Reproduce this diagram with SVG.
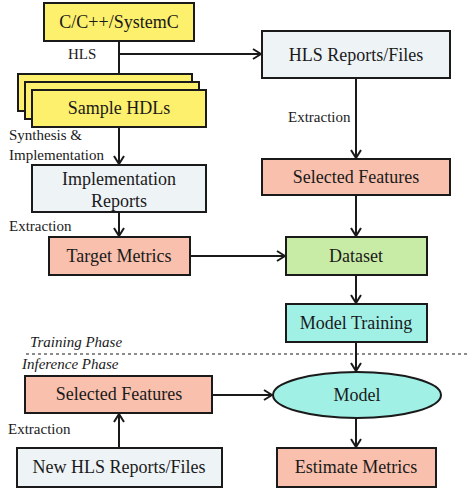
<svg xmlns="http://www.w3.org/2000/svg" width="474" height="492" viewBox="0 0 474 492">
<defs>
<marker id="a" markerUnits="userSpaceOnUse" viewBox="0 0 10 12" refX="9" refY="6" markerWidth="10" markerHeight="12" orient="auto">
<path d="M1,1 L9,6 L1,11" fill="none" stroke="#1a1a1a" stroke-width="2"/>
</marker>
</defs>
<rect width="474" height="492" fill="#fff"/>
<g id="connectors" fill="none" stroke="#1a1a1a" stroke-width="2">
<line x1="119" y1="41" x2="119" y2="89" marker-end="url(#a)"/>
<line x1="119" y1="54" x2="261" y2="54" marker-end="url(#a)"/>
<line x1="119" y1="127" x2="119" y2="164" marker-end="url(#a)"/>
<line x1="119" y1="212" x2="119" y2="236" marker-end="url(#a)"/>
<line x1="190" y1="256" x2="285" y2="256" marker-end="url(#a)"/>
<line x1="356" y1="78" x2="356" y2="158" marker-end="url(#a)"/>
<line x1="356" y1="195" x2="356" y2="236" marker-end="url(#a)"/>
<line x1="356" y1="275" x2="356" y2="303" marker-end="url(#a)"/>
<line x1="356" y1="342" x2="356" y2="371" marker-end="url(#a)"/>
<line x1="212" y1="395" x2="272" y2="395" marker-end="url(#a)"/>
<line x1="119" y1="448" x2="119" y2="414" marker-end="url(#a)"/>
<line x1="356" y1="418" x2="356" y2="447" marker-end="url(#a)"/>
<line x1="26" y1="354" x2="470" y2="354" stroke-width="1.2" stroke-dasharray="3,3"/>
</g>
<g id="labels" fill="#1a1a1a">
<text x="68" y="59" font-family="Liberation Serif" font-size="15">HLS</text>
<text x="9" y="140" font-family="Liberation Serif" font-size="15">Synthesis &amp;</text>
<text x="9" y="160" font-family="Liberation Serif" font-size="15">Implementation</text>
<text x="9" y="231" font-family="Liberation Serif" font-size="15">Extraction</text>
<text x="288" y="122" font-family="Liberation Serif" font-size="15">Extraction</text>
<text x="30" y="347" font-family="Liberation Serif" font-size="15" font-style="italic">Training Phase</text>
<text x="22" y="369" font-family="Liberation Serif" font-size="15" font-style="italic">Inference Phase</text>
<text x="8" y="434" font-family="Liberation Serif" font-size="15">Extraction</text>
</g>
<g id="n-source">
<rect x="44" y="3" width="150" height="38" fill="#fdf06c" stroke="#1a1a1a" stroke-width="2"/>
<text x="119" y="28" font-family="Liberation Serif" font-size="18" text-anchor="middle" fill="#1a1a1a">C/C++/SystemC</text>
</g>
<g id="n-hdl" fill="#fdf06c" stroke="#1a1a1a" stroke-width="2">
<rect x="18" y="74" width="174" height="37"/>
<rect x="25" y="82" width="174" height="37"/>
<rect x="32" y="90" width="174" height="37"/>
<text x="119" y="114" font-family="Liberation Serif" font-size="18" text-anchor="middle" fill="#1a1a1a" stroke="none">Sample HDLs</text>
</g>
<g id="n-impl">
<rect x="32" y="165" width="174" height="47" fill="#eef3f6" stroke="#1a1a1a" stroke-width="2"/>
<text x="119" y="185" font-family="Liberation Serif" font-size="18" text-anchor="middle" fill="#1a1a1a">Implementation</text>
<text x="119" y="207" font-family="Liberation Serif" font-size="18" text-anchor="middle" fill="#1a1a1a">Reports</text>
</g>
<g id="n-target">
<rect x="49" y="237" width="141" height="38" fill="#f8c0ad" stroke="#1a1a1a" stroke-width="2"/>
<text x="119" y="262" font-family="Liberation Serif" font-size="18" text-anchor="middle" fill="#1a1a1a">Target Metrics</text>
</g>
<g id="n-hlsrep">
<rect x="262" y="31" width="188" height="47" fill="#eef3f6" stroke="#1a1a1a" stroke-width="2"/>
<text x="356" y="61" font-family="Liberation Serif" font-size="18" text-anchor="middle" fill="#1a1a1a">HLS Reports/Files</text>
</g>
<g id="n-sel1">
<rect x="262" y="159" width="188" height="36" fill="#f8c0ad" stroke="#1a1a1a" stroke-width="2"/>
<text x="356" y="183" font-family="Liberation Serif" font-size="18" text-anchor="middle" fill="#1a1a1a">Selected Features</text>
</g>
<g id="n-dataset">
<rect x="286" y="237" width="141" height="38" fill="#c8eba6" stroke="#1a1a1a" stroke-width="2"/>
<text x="356" y="262" font-family="Liberation Serif" font-size="18" text-anchor="middle" fill="#1a1a1a">Dataset</text>
</g>
<g id="n-train">
<rect x="286" y="304" width="141" height="38" fill="#a0f0e6" stroke="#1a1a1a" stroke-width="2"/>
<text x="356" y="329" font-family="Liberation Serif" font-size="18" text-anchor="middle" fill="#1a1a1a">Model Training</text>
</g>
<g id="n-model">
<ellipse cx="357" cy="395" rx="84" ry="23" fill="#a0f0e6" stroke="#1a1a1a" stroke-width="2"/>
<text x="357" y="401" font-family="Liberation Serif" font-size="18" text-anchor="middle" fill="#1a1a1a">Model</text>
</g>
<g id="n-sel2">
<rect x="25" y="376" width="187" height="37" fill="#f8c0ad" stroke="#1a1a1a" stroke-width="2"/>
<text x="119" y="400" font-family="Liberation Serif" font-size="18" text-anchor="middle" fill="#1a1a1a">Selected Features</text>
</g>
<g id="n-newhls">
<rect x="17" y="448" width="205" height="39" fill="#eef3f6" stroke="#1a1a1a" stroke-width="2"/>
<text x="119" y="473" font-family="Liberation Serif" font-size="18" text-anchor="middle" fill="#1a1a1a">New HLS Reports/Files</text>
</g>
<g id="n-est">
<rect x="277" y="448" width="159" height="39" fill="#f8c0ad" stroke="#1a1a1a" stroke-width="2"/>
<text x="356" y="473" font-family="Liberation Serif" font-size="18" text-anchor="middle" fill="#1a1a1a">Estimate Metrics</text>
</g>
</svg>
